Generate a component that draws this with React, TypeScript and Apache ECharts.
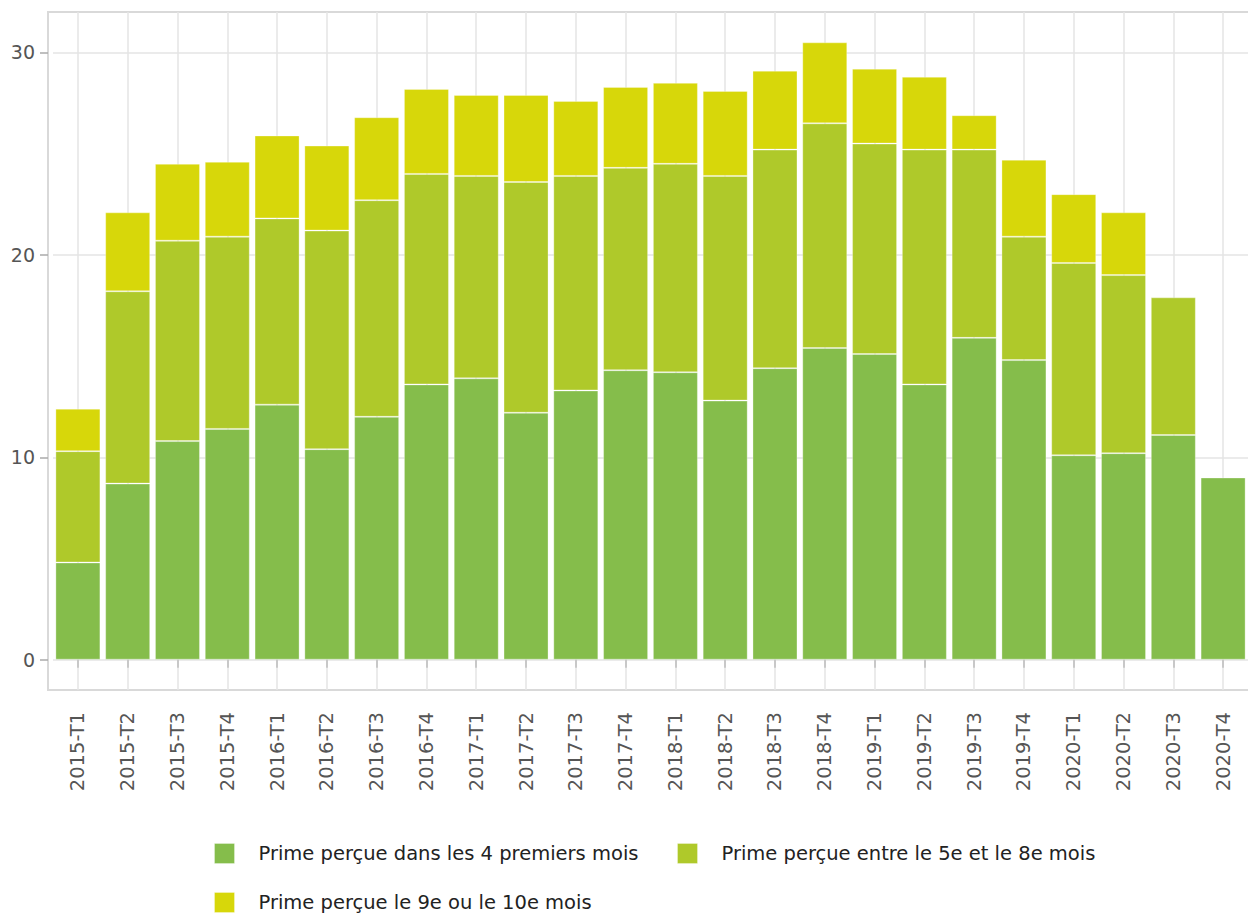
import React, { useEffect, useRef } from "react";
import * as echarts from "echarts";

const categories = [
  "2015-T1", "2015-T2", "2015-T3", "2015-T4",
  "2016-T1", "2016-T2", "2016-T3", "2016-T4",
  "2017-T1", "2017-T2", "2017-T3", "2017-T4",
  "2018-T1", "2018-T2", "2018-T3", "2018-T4",
  "2019-T1", "2019-T2", "2019-T3", "2019-T4",
  "2020-T1", "2020-T2", "2020-T3", "2020-T4",
];

const seriesNames = [
  "Prime perçue dans les 4 premiers mois",
  "Prime perçue entre le 5e et le 8e mois",
  "Prime perçue le 9e ou le 10e mois",
];

const first4Months = [4.8, 8.7, 10.8, 11.4, 12.6, 10.4, 12.0, 13.6, 13.9, 12.2, 13.3, 14.3, 14.2, 12.8, 14.4, 15.4, 15.1, 13.6, 15.9, 14.8, 10.1, 10.2, 11.1, 9.0];
const months5to8 = [5.5, 9.5, 9.9, 9.5, 9.2, 10.8, 10.7, 10.4, 10.0, 11.4, 10.6, 10.0, 10.3, 11.1, 10.8, 11.1, 10.4, 11.6, 9.3, 6.1, 9.5, 8.8, 6.8, null];
const months9to10 = [2.1, 3.9, 3.8, 3.7, 4.1, 4.2, 4.1, 4.2, 4.0, 4.3, 3.7, 4.0, 4.0, 4.2, 3.9, 4.0, 3.7, 3.6, 1.7, 3.8, 3.4, 3.1, null, null];

const yTickValues = [0, 10, 20, 30];

const colors = ["#85BD4B", "#AFC92A", "#D7D70A"];

export default function App() {
  const ref = useRef<HTMLDivElement>(null);

  useEffect(() => {
    document.body.style.margin = "0";
    if (!ref.current) return;
    const chart = echarts.init(ref.current, undefined, { renderer: "svg" });
    const font = "'DejaVu Sans', Verdana, sans-serif";
    const mkLegend = (name: string, left: number, top: number) => ({
      show: true,
      data: [name],
      left,
      top,
      orient: "horizontal",
      itemWidth: 20,
      itemHeight: 20,
      icon: "rect",
      selectedMode: false,
      itemStyle: { borderColor: "rgba(255,255,255,0.3)", borderWidth: 1 },
      textStyle: { fontSize: 19.5, color: "#222", fontFamily: font, padding: [0, 0, 0, 19] },
    });
    const barStyle = (c: string) => ({
      color: c,
      borderColor: "rgba(255,255,255,0.3)",
      borderWidth: 1,
    });
    chart.setOption({
      animation: false,
      color: colors,
      textStyle: { fontFamily: font },
      grid: { left: 53, top: 12, width: 1200, height: 678, containLabel: false },
      graphic: [
        {
          type: "rect",
          shape: { x: 48, y: 12, width: 1250, height: 678 },
          style: { fill: "none", stroke: "#d9d9d9", lineWidth: 2 },
          z: 0,
          silent: true,
        },
      ],
      legend: [
        mkLegend(seriesNames[0], 209, 838),
        mkLegend(seriesNames[1], 672, 838),
        mkLegend(seriesNames[2], 209, 887),
      ],
      xAxis: {
        type: "category",
        data: categories,
        boundaryGap: true,
        axisLine: { show: false },
        axisTick: { show: true, alignWithLabel: true, length: 8, lineStyle: { color: "#c8c8c8", width: 2 } },
        splitLine: { show: true, alignWithLabel: true, lineStyle: { color: "#e4e4e4", width: 1.5 } },
        axisLabel: { rotate: 90, margin: 22, fontSize: 19.5, color: "#555", interval: 0, fontFamily: font },
      },
      yAxis: {
        type: "value",
        min: -1.5,
        max: 32,
        splitNumber: 3,
        offset: 5,
        axisLine: { show: false },
        axisTick: { show: true, length: 8, customValues: yTickValues, lineStyle: { color: "#aaa", width: 1.5 } },
        axisLabel: { fontSize: 19, color: "#555", margin: 13, customValues: yTickValues, fontFamily: font },
        splitLine: { show: true, lineStyle: { color: "#e4e4e4", width: 1.5 } },
      },
      series: [
        { name: seriesNames[0], type: "bar", stack: "total", barWidth: 45, data: first4Months, itemStyle: barStyle(colors[0]) },
        { name: seriesNames[1], type: "bar", stack: "total", barWidth: 45, data: months5to8, itemStyle: barStyle(colors[1]) },
        { name: seriesNames[2], type: "bar", stack: "total", barWidth: 45, data: months9to10, itemStyle: barStyle(colors[2]) },
      ],
    });
    return () => chart.dispose();
  }, []);

  return <div ref={ref} style={{ width: 1248, height: 913 }} />;
}
